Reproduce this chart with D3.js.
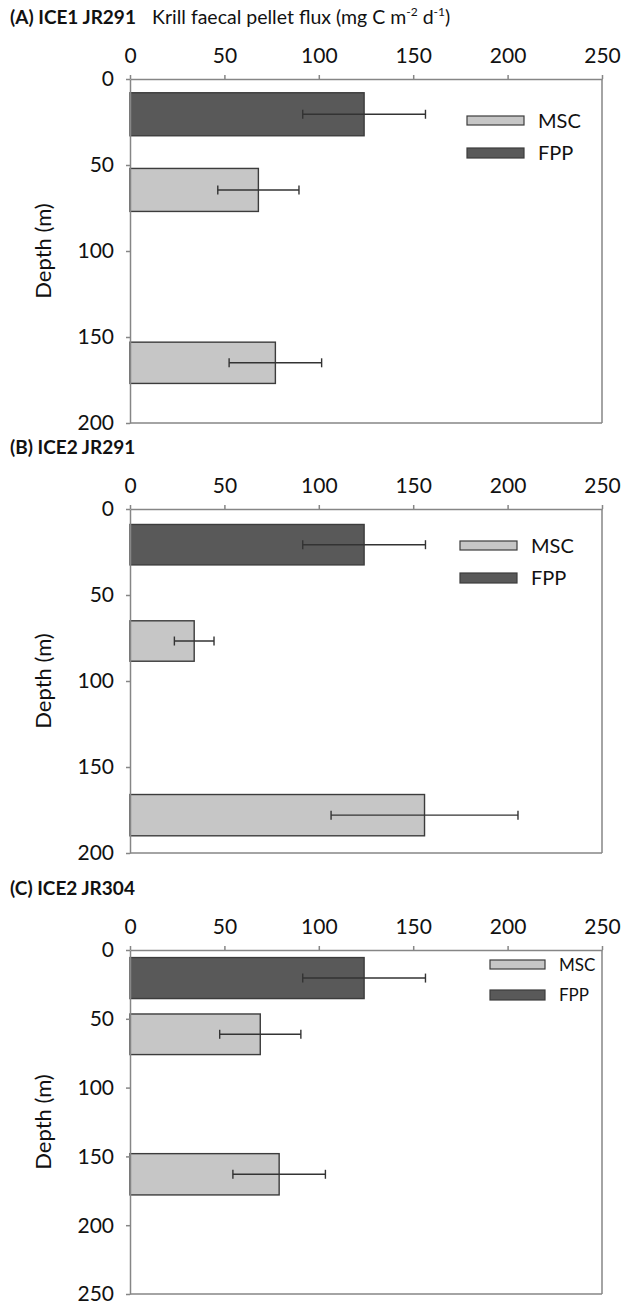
<!DOCTYPE html>
<html>
<head>
<meta charset="utf-8">
<script src="https://cdn.jsdelivr.net/npm/d3@7"></script>
<style>
  body { margin: 0; background: #fff; }
  text { font-family: Lato, "Open Sans", sans-serif; fill: #111; }
</style>
</head>
<body>
<script>
// data
const panelTitles = ["(A) ICE1 JR291", "(B) ICE2 JR291", "(C) ICE2 JR304"];
const fluxTicks = [0, 50, 100, 150, 200, 250];
const depthTicksAB = [0, 50, 100, 150, 200];
const depthTicksC = [0, 50, 100, 150, 200, 250];
const seriesNames = ["MSC", "FPP"];

const barTypeA = ["FPP", "MSC", "MSC"];
const barTopA = [8, 52, 153];
const barBottomA = [33, 77, 177];
const fluxA = [124, 68, 77];
const errA = [32.5, 21.5, 24.5];

const barTypeB = ["FPP", "MSC", "MSC"];
const barTopB = [9, 65, 166];
const barBottomB = [32.5, 88.5, 190];
const fluxB = [124, 34, 156];
const errB = [32.5, 10.5, 49.5];

const barTypeC = ["FPP", "MSC", "MSC"];
const barTopC = [5.5, 46.5, 148];
const barBottomC = [35.3, 76, 178];
const fluxC = [124, 69, 79];
const errC = [32.5, 21.5, 24.5];

const colors = {MSC: "#c6c6c6", FPP: "#595959"};
const axisCol = "#868686";

const W = 630, H = 1304;
const svg = d3.select("body").append("svg").attr("width", W).attr("height", H);

let x = d3.scaleLinear().domain([0, 250]).range([130, 602]);

let panels = [
  {title: panelTitles[0], top: 79, bottom: 423, ticks: depthTicksAB, type: barTypeA, t: barTopA, b: barBottomA, v: fluxA, e: errA,
   legend: {x: 467, y: 116, fs: 20}},
  {title: panelTitles[1], top: 509, bottom: 853, ticks: depthTicksAB, type: barTypeB, t: barTopB, b: barBottomB, v: fluxB, e: errB,
   legend: {x: 460, y: 541, fs: 20}},
  {title: panelTitles[2], top: 950, bottom: 1294, ticks: depthTicksC, type: barTypeC, t: barTopC, b: barBottomC, v: fluxC, e: errC,
   legend: {x: 490, y: 960, fs: 17}}
];

panels.forEach(function (p, pi) {
  let y = d3.scaleLinear().domain([0, d3.max(p.ticks)]).range([p.top, p.bottom]);
  let g = svg.append("g");

  // title
  g.append("text").attr("x", 10).attr("y", p.top - 55)
    .attr("font-size", "19px").attr("font-weight", "bold")
    .text(p.title);

  if (pi == 0) {
    let t = g.append("text").attr("x", 152).attr("y", p.top - 55).attr("font-size", "19.5px");
    t.append("tspan").text("Krill faecal pellet flux (mg C m");
    t.append("tspan").attr("dy", -8).attr("font-size", "12px").text("-2");
    t.append("tspan").attr("dy", 8).text(" d");
    t.append("tspan").attr("dy", -8).attr("font-size", "12px").text("-1");
    t.append("tspan").attr("dy", 8).text(")");
  }

  // plot border (right, bottom)
  g.append("line").attr("x1", x(250)).attr("x2", x(250)).attr("y1", p.top).attr("y2", p.bottom)
    .attr("stroke", axisCol).attr("stroke-width", 1.5);
  g.append("line").attr("x1", x(0)).attr("x2", x(250)).attr("y1", p.bottom).attr("y2", p.bottom)
    .attr("stroke", axisCol).attr("stroke-width", 1.5);

  // bars
  let idx = d3.range(p.v.length);
  g.selectAll(".bar").data(idx).enter().append("rect")
    .attr("x", x(0))
    .attr("y", function (i) { return y(p.t[i]); })
    .attr("width", function (i) { return x(p.v[i]) - x(0); })
    .attr("height", function (i) { return y(p.b[i]) - y(p.t[i]); })
    .attr("fill", function (i) { return colors[p.type[i]]; })
    .attr("stroke", "#3c3c3c").attr("stroke-width", 1.4);

  // error bars
  idx.forEach(function (i) {
    let cy = (y(p.t[i]) + y(p.b[i])) / 2;
    let x1 = x(p.v[i] - p.e[i]), x2 = x(p.v[i] + p.e[i]);
    g.append("line").attr("x1", x1).attr("x2", x2).attr("y1", cy).attr("y2", cy)
      .attr("stroke", "#333").attr("stroke-width", 1.4);
    [x1, x2].forEach(function (xx) {
      g.append("line").attr("x1", xx).attr("x2", xx).attr("y1", cy - 4.5).attr("y2", cy + 4.5)
        .attr("stroke", "#333").attr("stroke-width", 1.4);
    });
  });

  // axes
  let xa = g.append("g").attr("transform", "translate(0," + p.top + ")")
    .call(d3.axisTop(x).tickValues(fluxTicks).tickSize(4).tickSizeOuter(0).tickPadding(12));
  let ya = g.append("g").attr("transform", "translate(" + x(0) + ",0)")
    .call(d3.axisLeft(y).tickValues(p.ticks).tickSize(4).tickSizeOuter(0).tickPadding(12));
  [xa, ya].forEach(function (a) {
    a.selectAll("path, line").attr("stroke", axisCol).attr("stroke-width", 1.5);
    a.selectAll("text").attr("font-size", "21px").attr("font-family", "Lato, sans-serif").attr("fill", "#111");
  });
  ya.selectAll("text").attr("dy", "0.33em");

  // depth label
  g.append("text")
    .attr("transform", "translate(51," + y(d3.max(p.ticks) / 2) + ") rotate(-90)")
    .attr("text-anchor", "middle").attr("font-size", "22px")
    .text("Depth (m)");

  // legend
  let lg = g.append("g").attr("transform", "translate(" + p.legend.x + "," + p.legend.y + ")");
  let sw = p.legend.fs > 18 ? 57 : 55;
  let gap = p.legend.fs > 18 ? 32 : 30;
  seriesNames.forEach(function (s, k) {
    lg.append("rect").attr("x", 0).attr("y", k * gap).attr("width", sw).attr("height", 9 + k)
      .attr("fill", colors[s]).attr("stroke", "#3c3c3c").attr("stroke-width", 1.2);
    lg.append("text").attr("x", sw + 14).attr("y", k * gap + 5).attr("dy", "0.36em")
      .attr("font-size", p.legend.fs + "px").text(s);
  });
});
</script>
</body>
</html>
